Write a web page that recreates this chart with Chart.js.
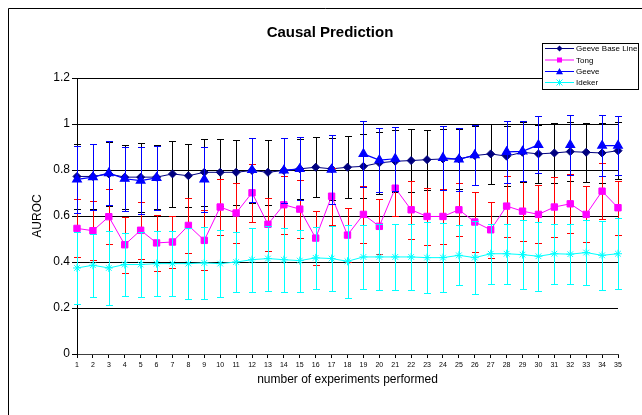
<!DOCTYPE html>
<html>
<head>
<meta charset="utf-8">
<script src="https://cdn.jsdelivr.net/npm/chart.js@4.4.1/dist/chart.umd.min.js"></script>
<style>
  html, body { margin: 0; padding: 0; background: #fff; }
  #wrap { width: 642px; height: 415px; }
</style>
</head>
<body>
<div id="wrap"><canvas id="chart" width="642" height="415"></canvas></div>
<script>
// x categories: number of experiments performed
const experiments = ['1','2','3','4','5','6','7','8','9','10','11','12','13','14','15','16','17','18',
  '19','20','21','22','23','24','25','26','27','28','29','30','31','32','33','34','35'];

// mean AUROC per series
const baseLine = [0.772,0.772,0.783,0.769,0.769,0.769,0.783,0.775,0.79,0.79,0.79,0.798,0.79,0.798,0.805,
  0.812,0.805,0.812,0.816,0.831,0.838,0.841,0.845,0.848,0.848,0.863,0.87,0.86,0.877,0.87,0.874,0.88,0.877,0.874,0.884];
const tong = [0.546,0.536,0.597,0.475,0.538,0.483,0.487,0.559,0.494,0.639,0.613,0.701,0.564,0.649,0.63,
  0.504,0.686,0.517,0.607,0.555,0.721,0.627,0.598,0.598,0.627,0.574,0.54,0.643,0.621,0.607,0.639,0.653,0.607,0.708,0.636];
const geeve = [0.759,0.769,0.786,0.762,0.754,0.766,null,null,0.759,null,null,0.8,null,0.798,0.805,
  null,0.802,null,0.87,0.843,0.849,null,null,0.853,0.846,0.865,null,0.879,0.881,0.909,null,0.909,null,0.906,0.906];
const ideker = [0.374,0.386,0.374,0.389,0.389,0.393,0.393,0.393,0.396,0.393,0.4,0.41,0.415,0.41,0.406,
  0.418,0.415,0.403,0.422,0.422,0.422,0.422,0.419,0.419,0.429,0.419,0.436,0.436,0.432,0.425,0.436,0.434,0.441,0.429,0.436];

// error bar half widths
const baseLineErr = [0.14,0.14,0.14,0.14,0.15,0.14,0.145,0.136,0.145,0.145,0.14,0.14,0.14,0.14,0.13,
  0.13,0.135,0.134,0.139,0.135,0.135,0.136,0.13,0.13,0.13,0.13,0.13,0.13,0.13,0.127,0.13,0.128,0.127,0.13,0.125];
const tongErr = [0.126,0.128,0.12,0.122,0.125,0.122,0.115,0.118,0.13,0.123,0.13,0.125,0.116,0.126,0.127,
  0.118,0.124,0.118,0.123,0.12,0.123,0.125,0.125,0.12,0.115,0.13,0.122,0.133,0.13,0.126,0.13,0.128,0.122,0.123,0.118];
const geeveErr = [0.145,0.145,0.14,0.14,0.145,0.14,null,null,0.143,null,null,0.14,null,0.14,0.137,
  null,0.15,null,0.143,0.139,0.14,null,null,0.14,0.136,0.13,null,0.134,0.13,0.124,null,0.13,null,0.134,0.127];
const idekerErr = [0.155,0.137,0.16,0.135,0.14,0.14,0.14,0.156,0.157,0.145,0.13,0.14,0.14,0.14,0.135,
  0.136,0.14,0.16,0.14,0.145,0.145,0.145,0.155,0.15,0.13,0.16,0.13,0.13,0.15,0.15,0.13,0.13,0.14,0.15,0.155];

const FONT = "'Liberation Sans', Arial, sans-serif";

function drawMarker(ctx, style, x, y, r, color) {
  ctx.save();
  ctx.fillStyle = color;
  ctx.strokeStyle = color;
  ctx.lineWidth = 1;
  ctx.beginPath();
  if (style === 'rectRot') {
    ctx.moveTo(x, y - r); ctx.lineTo(x + r, y); ctx.lineTo(x, y + r); ctx.lineTo(x - r, y);
    ctx.closePath(); ctx.fill();
  } else if (style === 'rect') {
    ctx.rect(x - r, y - r, 2 * r, 2 * r); ctx.fill();
  } else if (style === 'triangle') {
    ctx.moveTo(x, y - r); ctx.lineTo(x + r, y + r * 0.8); ctx.lineTo(x - r, y + r * 0.8);
    ctx.closePath(); ctx.fill();
  } else {
    ctx.moveTo(x - r, y - r); ctx.lineTo(x + r, y + r);
    ctx.moveTo(x + r, y - r); ctx.lineTo(x - r, y + r);
    ctx.moveTo(x, y - r); ctx.lineTo(x, y + r);
    ctx.stroke();
  }
  ctx.restore();
}

const errorBarPlugin = {
  id: 'errorBars',
  beforeDatasetDraw(chart, args) {
    const ds = chart.data.datasets[args.index];
    if (!ds.errors) return;
    const {ctx, scales: {x, y}} = chart;
    ctx.save();
    ctx.strokeStyle = ds.errorColor;
    ctx.lineWidth = 1;
    ds.data.forEach((v, i) => {
      if (v === null) return;
      const px = Math.round(x.getPixelForValue(i)) + 0.5;
      const top = Math.round(y.getPixelForValue(v + ds.errors[i])) + 0.5;
      const bot = Math.round(y.getPixelForValue(v - ds.errors[i])) + 0.5;
      ctx.beginPath();
      ctx.moveTo(px, top); ctx.lineTo(px, bot);
      ctx.moveTo(px - 3.5, top); ctx.lineTo(px + 3.5, top);
      ctx.moveTo(px - 3.5, bot); ctx.lineTo(px + 3.5, bot);
      ctx.stroke();
    });
    ctx.restore();
  }
};

// white page, outer frame, title and the boxed legend
const decorPlugin = {
  id: 'decor',
  beforeDraw(chart) {
    const ctx = chart.ctx;
    ctx.save();
    ctx.fillStyle = '#fff';
    ctx.fillRect(0, 0, chart.width, chart.height);
    ctx.strokeStyle = '#000';
    ctx.lineWidth = 1;
    ctx.beginPath();
    ctx.moveTo(8.5, chart.height + 5);
    ctx.lineTo(8.5, 8.5);
    ctx.lineTo(chart.width + 5, 8.5);
    ctx.stroke();
    ctx.restore();
  },
  afterDraw(chart) {
    const ctx = chart.ctx;
    ctx.save();
    ctx.fillStyle = '#000';
    ctx.font = 'bold 15px ' + FONT;
    ctx.textAlign = 'center';
    ctx.textBaseline = 'middle';
    ctx.fillText('Causal Prediction', 330, 33);

    ctx.fillStyle = '#fff';
    ctx.fillRect(542, 43, 97, 47);
    ctx.strokeStyle = '#000';
    ctx.strokeRect(542.5, 43.5, 96, 46);
    const rows = [48, 59.5, 71, 82];
    ctx.font = '8px ' + FONT;
    ctx.textAlign = 'left';
    chart.data.datasets.forEach((ds, i) => {
      const yy = rows[i];
      ctx.strokeStyle = ds.borderColor;
      ctx.lineWidth = 1;
      ctx.beginPath();
      ctx.moveTo(545, yy + 0.5); ctx.lineTo(574, yy + 0.5);
      ctx.stroke();
      drawMarker(ctx, ds.pointStyle, 559.5, yy + 0.5, ds.legendSize, ds.pointBackgroundColor);
      ctx.fillStyle = '#000';
      ctx.fillText(ds.label, 576, yy + 1);
    });
    ctx.restore();
  }
};

new Chart(document.getElementById('chart'), {
  type: 'line',
  data: {
    labels: experiments,
    datasets: [
      { label: 'Geeve Base Line', data: baseLine, errors: baseLineErr, errorColor: '#000000',
        borderColor: '#000080', pointBackgroundColor: '#000080', pointBorderColor: '#000080',
        pointStyle: 'rectRot', pointRadius: 4, legendSize: 3, borderWidth: 1, order: 4 },
      { label: 'Tong', data: tong, errors: tongErr, errorColor: '#ff0000',
        borderColor: '#ff00ff', pointBackgroundColor: '#ff00ff', pointBorderColor: '#ff00ff',
        pointStyle: 'rect', pointRadius: 4.5, legendSize: 2.5, borderWidth: 1, order: 3 },
      { label: 'Geeve', data: geeve, errors: geeveErr, errorColor: '#0000ff',
        borderColor: '#0000ff', pointBackgroundColor: '#0000ff', pointBorderColor: '#0000ff',
        pointStyle: 'triangle', pointRadius: 5, legendSize: 3.5, borderWidth: 1.2, order: 2, spanGaps: false },
      { label: 'Ideker', data: ideker, errors: idekerErr, errorColor: '#00ffff',
        borderColor: '#00ffff', pointBackgroundColor: '#00ffff', pointBorderColor: '#00ffff',
        pointStyle: 'star', pointRadius: 4, legendSize: 3, borderWidth: 1, pointBorderWidth: 1, order: 1 }
    ]
  },
  options: {
    responsive: false,
    devicePixelRatio: 1,
    animation: false,
    events: [],
    layout: { padding: { left: 30, right: 24, top: 78, bottom: 28 } },
    plugins: {
      legend: { display: false },
      title: { display: false },
      tooltip: { enabled: false }
    },
    elements: { line: { tension: 0 } },
    scales: {
      x: {
        type: 'category',
        offset: false,
        afterFit: s => { s.height = 33; },
        border: { display: true, color: '#404040', width: 1 },
        grid: { drawOnChartArea: false, drawTicks: true, tickLength: 4, color: '#000' },
        ticks: { color: '#000', font: { family: FONT, size: 7 }, maxRotation: 0, autoSkip: false, padding: 3 },
        title: { display: true, text: 'number of experiments performed', color: '#000',
          font: { family: FONT, size: 12 }, padding: 0 }
      },
      y: {
        min: 0,
        max: 1.2,
        afterFit: s => { s.width = 47; },
        border: { display: true, color: '#000', width: 1 },
        grid: { color: '#000', lineWidth: 1, drawTicks: true, tickLength: 5 },
        ticks: { stepSize: 0.2, color: '#000', font: { family: FONT, size: 12 }, padding: 2,
          callback: v => String(Math.round(v * 10) / 10) },
        title: { display: true, text: 'AUROC', color: '#000', font: { family: FONT, size: 12 }, padding: 0 }
      }
    }
  },
  plugins: [errorBarPlugin, decorPlugin]
});
</script>
</body>
</html>
